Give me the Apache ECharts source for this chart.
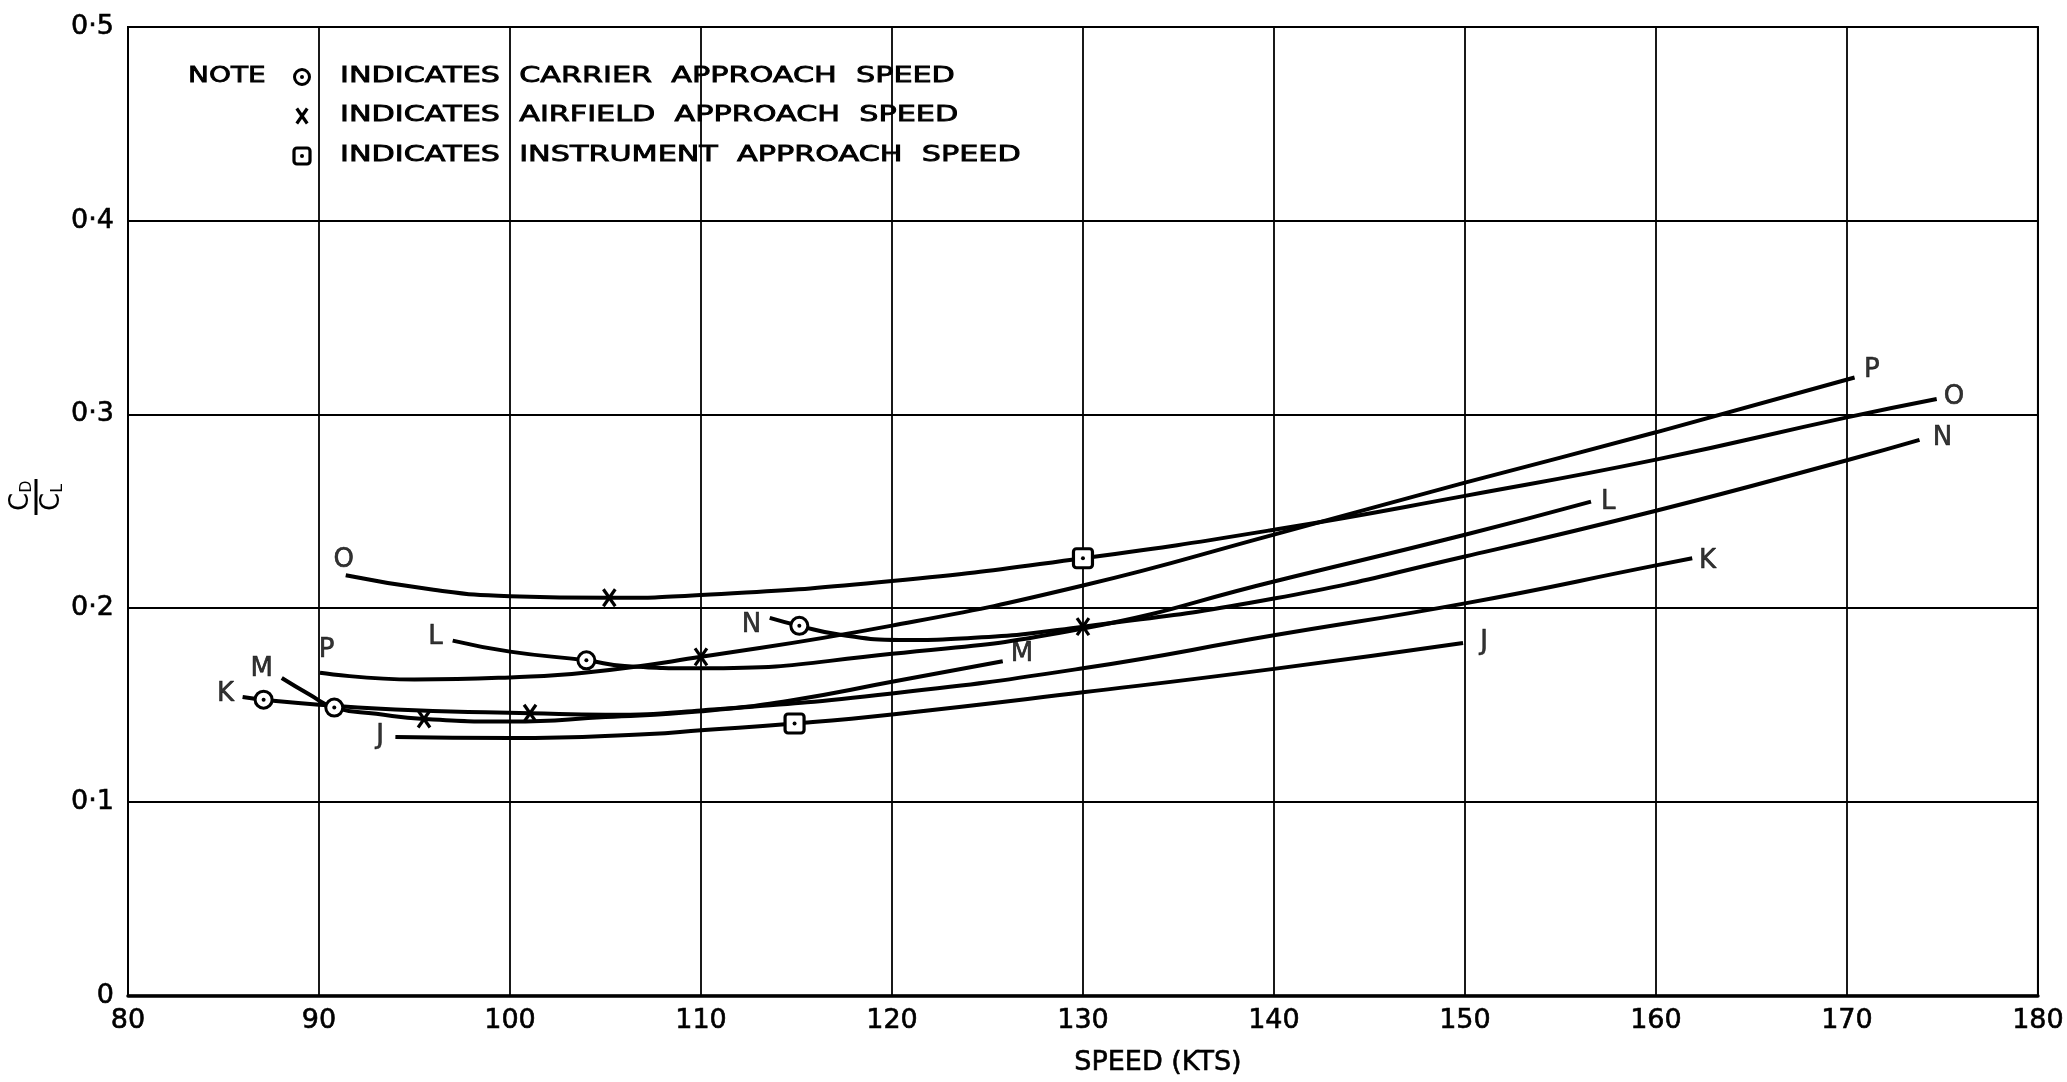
<!DOCTYPE html>
<html>
<head>
<meta charset="utf-8">
<script src="https://cdn.jsdelivr.net/npm/echarts@6/dist/echarts.min.js"></script>
<style>
  html, body { margin: 0; padding: 0; background: #fff; }
  #chart { width: 2067px; height: 1082px; }
</style>
</head>
<body>
<div id="chart"></div>
<script>
// Tick labels
const xTickLabels = ['80', '90', '100', '110', '120', '130', '140', '150', '160', '170', '180'];
const yTickLabels = ['0', '0·1', '0·2', '0·3', '0·4', '0·5'];

// CD/CL against speed (kts) for each aircraft
const curveJ = [[94.0, 0.1335], [100, 0.1330], [107.3, 0.1351], [110, 0.1370], [114.9, 0.1405], [120, 0.1452], [130, 0.1566], [140, 0.1687], [149.9, 0.1821]];
const curveK = [[86.0, 0.1542], [87.1, 0.1528], [90, 0.1502], [95, 0.1473], [101.05, 0.1458], [105, 0.1450], [110, 0.1472], [120, 0.1560], [130, 0.1690], [140, 0.1860], [150, 0.2025], [160, 0.2221], [161.9, 0.2258]];
const curveL = [[97.0, 0.1833], [100, 0.1776], [104.0, 0.1731], [106, 0.1702], [110, 0.1690], [120, 0.1765], [130, 0.1895], [140, 0.2138], [150, 0.2379], [156.6, 0.2550]];
const curveM = [[88.05, 0.1640], [89.5, 0.1555], [90.8, 0.1487], [93, 0.1455], [95.5, 0.1428], [100, 0.1415], [105, 0.1438], [110, 0.1468], [114.7, 0.1524], [120, 0.1620], [125.8, 0.1726]];
const curveN = [[113.6, 0.1950], [115.15, 0.1909], [117.3, 0.1863], [120.4, 0.1836], [124.3, 0.1847], [130, 0.1905], [140, 0.2050], [150, 0.2267], [160, 0.2503], [170, 0.2764], [173.8, 0.2869]];
const curveO = [[91.4, 0.2170], [96, 0.2095], [100, 0.2062], [105.2, 0.2054], [110, 0.2068], [120, 0.2140], [130, 0.2258], [140, 0.2405], [150, 0.2580], [160, 0.2767], [170, 0.2985], [174.7, 0.3080]];
const curveP = [[90.05, 0.1667], [95, 0.1632], [100, 0.1643], [104, 0.1668], [110, 0.1749], [120, 0.1910], [130, 0.2117], [140, 0.2380], [150, 0.2648], [160, 0.2908], [170.4, 0.3191]];

// Approach speed points
const carrierPoints = [[87.1, 0.1528], [90.8, 0.1487], [104.0, 0.1731], [115.15, 0.1909]];
const airfieldPoints = [[95.5, 0.1428], [101.05, 0.1458], [105.2, 0.2054], [110.0, 0.1749], [130.0, 0.1905]];
const instrumentPoints = [[114.9, 0.1405], [130.0, 0.2258]];

// Curve letters at both ends of each curve
const curveLetters = [
  [93.2, 0.1340, 'J'], [151.0, 0.1826, 'J'],
  [85.1, 0.1554, 'K'], [162.7, 0.2240, 'K'],
  [96.1, 0.1850, 'L'], [157.5, 0.2545, 'L'],
  [87.0, 0.1684, 'M'], [126.8, 0.1760, 'M'],
  [112.65, 0.1910, 'N'], [175.0, 0.2878, 'N'],
  [91.3, 0.2246, 'O'], [175.6, 0.3090, 'O'],
  [90.4, 0.1785, 'P'], [171.3, 0.3226, 'P']
];

const FONT = '"DejaVu Sans", "Liberation Sans", sans-serif';
const INK = '#000';

function curveSeries(name, data) {
  return {
    name: name,
    type: 'line',
    data: data,
    symbol: 'none',
    smooth: 0.5,
    lineStyle: { color: INK, width: 4 },
    z: 3,
    silent: true
  };
}

function carrierShape(p, r) {
  return [
    { type: 'circle', shape: { cx: p[0], cy: p[1], r: r }, style: { fill: '#fff', stroke: INK, lineWidth: 3 } },
    { type: 'circle', shape: { cx: p[0], cy: p[1], r: 2 }, style: { fill: INK } }
  ];
}
function airfieldShape(p, h) {
  return [
    { type: 'line', shape: { x1: p[0] - h * 0.7, y1: p[1] - h, x2: p[0] + h * 0.7, y2: p[1] + h }, style: { stroke: INK, lineWidth: 3.2 } },
    { type: 'line', shape: { x1: p[0] + h * 0.7, y1: p[1] - h, x2: p[0] - h * 0.7, y2: p[1] + h }, style: { stroke: INK, lineWidth: 3.2 } }
  ];
}
function instrumentShape(p, h) {
  return [
    { type: 'rect', shape: { x: p[0] - h, y: p[1] - h, width: 2 * h, height: 2 * h, r: 3 }, style: { fill: '#fff', stroke: INK, lineWidth: 3.2 } },
    { type: 'circle', shape: { cx: p[0], cy: p[1], r: 2 }, style: { fill: INK } }
  ];
}

function markerSeries(name, data, shapeFn, size) {
  return {
    name: name,
    type: 'custom',
    coordinateSystem: 'cartesian2d',
    data: data,
    z: 5,
    silent: true,
    renderItem: function (params, api) {
      const p = api.coord([api.value(0), api.value(1)]);
      return { type: 'group', children: shapeFn(p, size) };
    }
  };
}

const chart = echarts.init(document.getElementById('chart'), null, { renderer: 'canvas' });

const legendRows = [
  { y: 77, text: 'INDICATES  CARRIER  APPROACH  SPEED', shape: carrierShape, size: 7.5 },
  { y: 116, text: 'INDICATES  AIRFIELD  APPROACH  SPEED', shape: airfieldShape, size: 7.5 },
  { y: 156, text: 'INDICATES  INSTRUMENT  APPROACH  SPEED', shape: instrumentShape, size: 8 }
];

const textStyleLegend = function (text) {
  return { text: text, font: '21px ' + FONT, fill: INK, textVerticalAlign: 'middle', verticalAlign: 'middle', stroke: INK, lineWidth: 0.8 };
};

const graphics = [];
graphics.push({ type: 'text', x: 188, y: 77, scaleX: 1.33, z: 10, style: textStyleLegend('NOTE') });
legendRows.forEach(function (row) {
  graphics.push({ type: 'group', z: 10, children: row.shape([302, row.y], row.size) });
  graphics.push({ type: 'text', x: 340, y: row.y, scaleX: 1.44, z: 10, style: textStyleLegend(row.text) });
});
// Rotated CD / CL axis title
const fracRich = {
  c: { fontSize: 26, fontFamily: FONT, fill: INK },
  s: { fontSize: 16, fontFamily: FONT, fill: INK, padding: [12, 0, 0, 0] }
};
graphics.push({
  type: 'group', x: 36, y: 497, rotation: Math.PI / 2, z: 10,
  children: [
    { type: 'text', x: -14, y: -15, style: { text: '{c|C}{s|D}', rich: fracRich, textVerticalAlign: 'middle', verticalAlign: 'middle' } },
    { type: 'line', shape: { x1: -18, y1: 0, x2: 18, y2: 0 }, style: { stroke: INK, lineWidth: 3 } },
    { type: 'text', x: -14, y: 16, style: { text: '{c|C}{s|L}', rich: fracRich, textVerticalAlign: 'middle', verticalAlign: 'middle' } }
  ]
});

const option = {
  backgroundColor: '#fff',
  animation: false,
  grid: { left: 128, right: 29, top: 27, bottom: 86, show: true, borderColor: INK, borderWidth: 2, backgroundColor: '#fff' },
  xAxis: {
    type: 'value', min: 80, max: 180, interval: 10,
    name: 'SPEED (KTS)', nameLocation: 'middle', nameGap: 54,
    nameTextStyle: { fontSize: 27, fontFamily: FONT, color: INK, padding: [0, 0, 0, 150], textBorderColor: INK, textBorderWidth: 0.6 },
    axisLine: { show: true, lineStyle: { color: INK, width: 3.5 } },
    axisTick: { show: false },
    splitLine: { show: true, lineStyle: { color: INK, width: 1.8 } },
    axisLabel: {
      margin: 12, fontSize: 27, fontFamily: FONT, color: INK, textBorderColor: INK, textBorderWidth: 0.6,
      formatter: function (v) { return xTickLabels[Math.round((v - 80) / 10)]; }
    }
  },
  yAxis: {
    type: 'value', min: 0, max: 0.5, interval: 0.1,
    axisLine: { show: true, lineStyle: { color: INK, width: 2 } },
    axisTick: { show: false },
    splitLine: { show: true, lineStyle: { color: INK, width: 1.8 } },
    axisLabel: {
      margin: 14, fontSize: 27, fontFamily: FONT, color: INK, textBorderColor: INK, textBorderWidth: 0.6,
      formatter: function (v) { return yTickLabels[Math.round(v * 10)]; }
    }
  },
  graphic: graphics,
  series: [
    curveSeries('J', curveJ),
    curveSeries('K', curveK),
    curveSeries('L', curveL),
    curveSeries('M', curveM),
    curveSeries('N', curveN),
    curveSeries('O', curveO),
    curveSeries('P', curveP),
    markerSeries('Carrier approach speed', carrierPoints, carrierShape, 8.5),
    markerSeries('Airfield approach speed', airfieldPoints, airfieldShape, 8.5),
    markerSeries('Instrument approach speed', instrumentPoints, instrumentShape, 9.5),
    {
      name: 'Curve letters',
      type: 'scatter',
      data: curveLetters,
      symbol: 'circle',
      symbolSize: 2,
      itemStyle: { color: 'rgba(0,0,0,0)' },
      z: 6,
      silent: true,
      label: {
        show: true, position: 'inside',
        formatter: function (p) { return p.value[2]; },
        fontSize: 26, fontFamily: FONT, color: INK, textBorderColor: INK, textBorderWidth: 0.6
      }
    }
  ]
};

chart.setOption(option);
</script>
</body>
</html>
